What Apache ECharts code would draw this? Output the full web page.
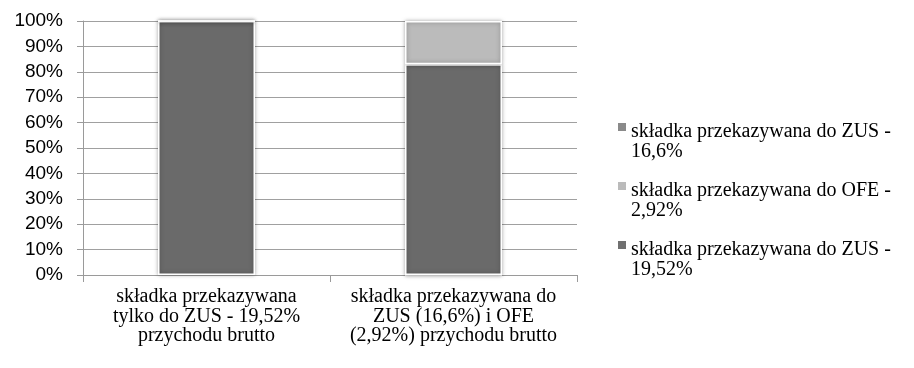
<!DOCTYPE html>
<html><head><meta charset="utf-8">
<script src="https://cdn.jsdelivr.net/npm/echarts@6/dist/echarts.min.js"></script>
<style>html,body{margin:0;padding:0;background:#fff}#c{width:914px;height:368px}</style>
</head><body><div id="c"></div>
<script>
const categories = [
  "składka przekazywana\ntylko do ZUS - 19,52%\nprzychodu brutto",
  "składka przekazywana do\nZUS (16,6%) i OFE\n(2,92%) przychodu brutto"
];
const seriesNames = [
  "składka przekazywana do ZUS -\n19,52%",
  "składka przekazywana do ZUS -\n16,6%",
  "składka przekazywana do OFE -\n2,92%"
];
const zus1952 = [100, 0];
const zus166 = [0, 83];
const ofe292 = [0, 17];
const yTicks = [0, 10, 20, 30, 40, 50, 60, 70, 80, 90, 100];

const chart = echarts.init(document.getElementById('c'), null, {renderer: 'canvas'});
const barStyle = (c) => ({color: c, borderColor: '#ffffff', borderWidth: 1.5,
  shadowBlur: 4, shadowColor: 'rgba(0,0,0,0.35)'});
const icon = 'path://M0,0h8v8h-8z M0,38h0.01';
chart.setOption({
  animation: false,
  grid: {left: 83, right: 337, top: 21, bottom: 93, containLabel: false},
  legend: {
    orient: 'vertical', left: 613, top: 117, itemWidth: 8, itemHeight: 38, itemGap: 19,
    icon: icon,
    data: [
      {name: seriesNames[1], itemStyle: {color: '#8a8a8a', borderWidth: 0, shadowBlur: 0}},
      {name: seriesNames[2], itemStyle: {color: '#bbbbbb', borderWidth: 0, shadowBlur: 0}},
      {name: seriesNames[0], itemStyle: {color: '#707070', borderWidth: 0, shadowBlur: 0}}
    ],
    textStyle: {fontFamily: 'Liberation Serif', fontSize: 20, color: '#000', lineHeight: 20},
    selectedMode: false
  },
  xAxis: {
    type: 'category', data: categories,
    axisLine: {lineStyle: {color: '#9a9a9a', width: 1}},
    axisTick: {show: true, length: 7, lineStyle: {color: '#9a9a9a'}},
    axisLabel: {fontFamily: 'Liberation Serif', fontSize: 20, color: '#000', lineHeight: 19.5, margin: 12, interval: 0}
  },
  yAxis: {
    type: 'value', min: 0, max: 100, interval: 10,
    axisLine: {show: true, lineStyle: {color: '#9a9a9a', width: 1}},
    axisTick: {show: true, length: 6, lineStyle: {color: '#9a9a9a'}},
    splitLine: {lineStyle: {color: '#a0a0a0', width: 1}},
    axisLabel: {fontFamily: 'Liberation Sans', fontSize: 19, color: '#000', margin: 20,
      formatter: (v) => yTicks.includes(v) ? v + '%' : ''}
  },
  series: [
    {name: seriesNames[0], type: 'bar', stack: 's', data: zus1952, barWidth: 97, itemStyle: barStyle('#6a6a6a')},
    {name: seriesNames[1], type: 'bar', stack: 's', data: zus166, barWidth: 97, itemStyle: barStyle('#6a6a6a')},
    {name: seriesNames[2], type: 'bar', stack: 's', data: ofe292, barWidth: 97, itemStyle: barStyle('#bbbbbb')}
  ]
});
</script></body></html>
